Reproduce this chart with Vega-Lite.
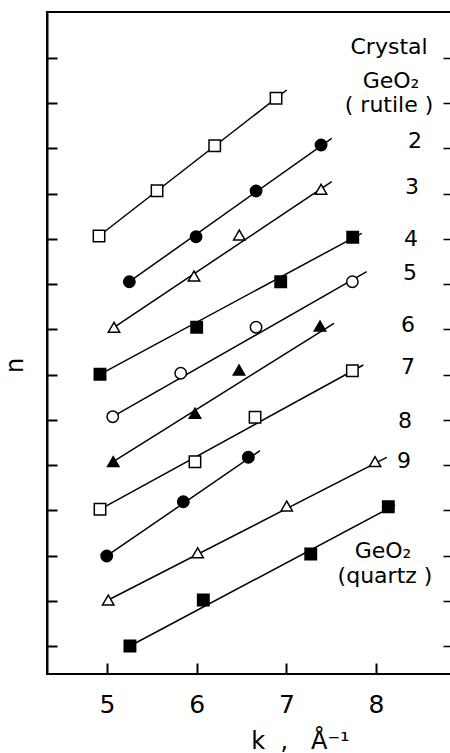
{
  "$schema": "https://vega.github.io/schema/vega-lite/v6.json",
  "width": 405,
  "height": 662,
  "autosize": {"type": "none"},
  "padding": {"left": 47, "top": 12, "right": 0, "bottom": 79},
  "background": "white",
  "config": {
    "view": {"stroke": "black", "strokeWidth": 2},
    "font": "DejaVu Sans",
    "axis": {"grid": false, "domainColor": "black", "tickColor": "black", "labelColor": "black", "titleColor": "black", "titleFontWeight": "normal"},
    "axisBottom": {
      "ticks": true, "domain": false, "offset": -11, "tickSize": 11, "tickWidth": 2, "tickColor": "#000000", "tickOpacity": 1,
      "labelFontSize": 25, "labelPadding": 18, "titleFontSize": 24,
      "titleX": 253, "titleY": 85, "titleAlign": "center", "titleBaseline": "alphabetic"
    }
  },
  "datasets": {
    "lines": [
      {"s": "1", "k": 4.911, "n": 10.065}, {"s": "1", "k": 7.004, "n": 13.293},
      {"s": "2", "k": 5.249, "n": 9.054}, {"s": "2", "k": 7.506, "n": 12.225},
      {"s": "3", "k": 5.078, "n": 8.046}, {"s": "3", "k": 7.506, "n": 11.266},
      {"s": "4", "k": 4.922, "n": 7.007}, {"s": "4", "k": 7.840, "n": 10.124},
      {"s": "5", "k": 5.064, "n": 6.070}, {"s": "5", "k": 7.896, "n": 9.275},
      {"s": "6", "k": 5.070, "n": 5.075}, {"s": "6", "k": 7.531, "n": 8.135},
      {"s": "7", "k": 4.922, "n": 4.022}, {"s": "7", "k": 7.858, "n": 7.213},
      {"s": "8", "k": 4.997, "n": 2.990}, {"s": "8", "k": 6.706, "n": 5.318},
      {"s": "9", "k": 5.014, "n": 2.017}, {"s": "9", "k": 8.119, "n": 5.172},
      {"s": "10", "k": 5.256, "n": 1.000}, {"s": "10", "k": 8.212, "n": 4.117}
    ],
    "points": [
      {"s": "1", "marker": "open square", "k": 4.911, "n": 10.065},
      {"s": "1", "marker": "open square", "k": 5.558, "n": 11.066},
      {"s": "1", "marker": "open square", "k": 6.201, "n": 12.061},
      {"s": "1", "marker": "open square", "k": 6.885, "n": 13.109},
      {"s": "2", "marker": "filled circle", "k": 5.249, "n": 9.054},
      {"s": "2", "marker": "filled circle", "k": 5.993, "n": 10.049},
      {"s": "2", "marker": "filled circle", "k": 6.662, "n": 11.060},
      {"s": "2", "marker": "filled circle", "k": 7.387, "n": 12.077},
      {"s": "3", "marker": "open triangle", "k": 5.078, "n": 8.046},
      {"s": "3", "marker": "open triangle", "k": 5.970, "n": 9.180},
      {"s": "3", "marker": "open triangle", "k": 6.475, "n": 10.087},
      {"s": "3", "marker": "open triangle", "k": 7.387, "n": 11.097},
      {"s": "4", "marker": "filled square", "k": 4.922, "n": 7.007},
      {"s": "4", "marker": "filled square", "k": 6.000, "n": 8.046},
      {"s": "4", "marker": "filled square", "k": 6.937, "n": 9.054},
      {"s": "4", "marker": "filled square", "k": 7.740, "n": 10.036},
      {"s": "5", "marker": "open circle", "k": 5.064, "n": 6.070},
      {"s": "5", "marker": "open circle", "k": 5.822, "n": 7.029},
      {"s": "5", "marker": "open circle", "k": 6.662, "n": 8.046},
      {"s": "5", "marker": "open circle", "k": 7.736, "n": 9.054},
      {"s": "6", "marker": "filled triangle", "k": 5.070, "n": 5.075},
      {"s": "6", "marker": "filled triangle", "k": 5.981, "n": 6.145},
      {"s": "6", "marker": "filled triangle", "k": 6.472, "n": 7.102},
      {"s": "6", "marker": "filled triangle", "k": 7.375, "n": 8.075},
      {"s": "7", "marker": "open square", "k": 4.922, "n": 4.022},
      {"s": "7", "marker": "open square", "k": 5.981, "n": 5.075},
      {"s": "7", "marker": "open square", "k": 6.651, "n": 6.056},
      {"s": "7", "marker": "open square", "k": 7.736, "n": 7.087},
      {"s": "8", "marker": "filled circle", "k": 4.997, "n": 2.990},
      {"s": "8", "marker": "filled circle", "k": 5.851, "n": 4.190},
      {"s": "8", "marker": "filled circle", "k": 6.576, "n": 5.172},
      {"s": "9", "marker": "open triangle", "k": 5.014, "n": 2.017},
      {"s": "9", "marker": "open triangle", "k": 6.011, "n": 3.063},
      {"s": "9", "marker": "open triangle", "k": 7.004, "n": 4.095},
      {"s": "9", "marker": "open triangle", "k": 7.989, "n": 5.075},
      {"s": "10", "marker": "filled square", "k": 5.256, "n": 1.000},
      {"s": "10", "marker": "filled square", "k": 6.074, "n": 2.017},
      {"s": "10", "marker": "filled square", "k": 7.272, "n": 3.034},
      {"s": "10", "marker": "filled square", "k": 8.137, "n": 4.080}
    ],
    "labels": [
      {"t": "Crystal", "k": 8.145, "n": 14.243},
      {"t": "GeO₂", "k": 8.167, "n": 13.500},
      {"t": "( rutile )", "k": 8.145, "n": 12.950},
      {"t": "2", "k": 8.435, "n": 12.165},
      {"t": "3", "k": 8.401, "n": 11.150},
      {"t": "4", "k": 8.390, "n": 10.000},
      {"t": "5", "k": 8.379, "n": 9.247},
      {"t": "6", "k": 8.357, "n": 8.097},
      {"t": "7", "k": 8.357, "n": 7.169},
      {"t": "8", "k": 8.323, "n": 5.975},
      {"t": "9", "k": 8.312, "n": 5.090},
      {"t": "GeO₂", "k": 8.078, "n": 3.100},
      {"t": "(quartz )", "k": 8.100, "n": 2.540}
    ]
  },
  "encoding": {
    "x": {
      "field": "k", "type": "quantitative",
      "scale": {"domain": [4.331, 8.847], "nice": false, "zero": false},
      "axis": {"values": [5, 6, 7, 8], "format": "d", "ticks": true, "tickSize": 11, "tickWidth": 2, "tickColor": "#000000", "title": "k\u00a0\u00a0,\u00a0\u00a0\u00a0Å⁻¹"}
    }
  },
  "resolve": {"axis": {"y": "independent"}},
  "layer": [
    {
      "data": {"name": "lines"},
      "mark": {"type": "line", "color": "black", "strokeWidth": 1.5},
      "encoding": {
        "y": {
          "field": "n", "type": "quantitative",
          "scale": {"domain": [0.381, 15.017], "nice": false, "zero": false},
          "axis": {
            "orient": "left", "values": [1, 2, 3, 4, 5, 6, 7, 8, 9, 10, 11, 12, 13, 14],
            "labels": false, "tickSize": -10, "tickWidth": 2, "domainWidth": 2,
            "title": "n", "titleFontSize": 24, "titleAngle": -90,
            "titleX": -32, "titleY": 353, "titleAlign": "center", "titleBaseline": "middle"
          }
        },
        "detail": {"field": "s", "type": "nominal"}
      }
    },
    {
      "data": {"name": "points"},
      "mark": {"type": "point", "stroke": "black", "strokeWidth": 1.5, "opacity": 1, "fillOpacity": 1},
      "encoding": {
        "y": {
          "field": "n", "type": "quantitative",
          "scale": {"domain": [0.381, 15.017], "nice": false, "zero": false},
          "axis": {
            "orient": "right", "values": [1, 2, 3, 4, 5, 6, 7, 8, 9, 10, 11, 12, 13, 14],
            "labels": false, "tickSize": -9, "tickWidth": 1.5, "domain": false, "title": null
          }
        },
        "shape": {
          "field": "marker", "type": "nominal", "legend": null,
          "scale": {
            "domain": ["open square", "filled circle", "open triangle", "filled square", "open circle", "filled triangle"],
            "range": ["square", "circle", "triangle-up", "square", "circle", "triangle-up"]
          }
        },
        "size": {
          "field": "marker", "type": "nominal", "legend": null,
          "scale": {
            "domain": ["open square", "filled circle", "open triangle", "filled square", "open circle", "filled triangle"],
            "range": [130, 130, 190, 130, 120, 190]
          }
        },
        "fill": {
          "field": "marker", "type": "nominal", "legend": null,
          "scale": {
            "domain": ["open square", "filled circle", "open triangle", "filled square", "open circle", "filled triangle"],
            "range": ["white", "black", "white", "black", "white", "black"]
          }
        }
      }
    },
    {
      "data": {"name": "labels"},
      "mark": {"type": "text", "align": "center", "baseline": "middle", "color": "black", "fontSize": 22},
      "encoding": {
        "y": {"field": "n", "type": "quantitative", "scale": {"domain": [0.381, 15.017], "nice": false, "zero": false}, "axis": null},
        "text": {"field": "t"}
      }
    }
  ]
}
